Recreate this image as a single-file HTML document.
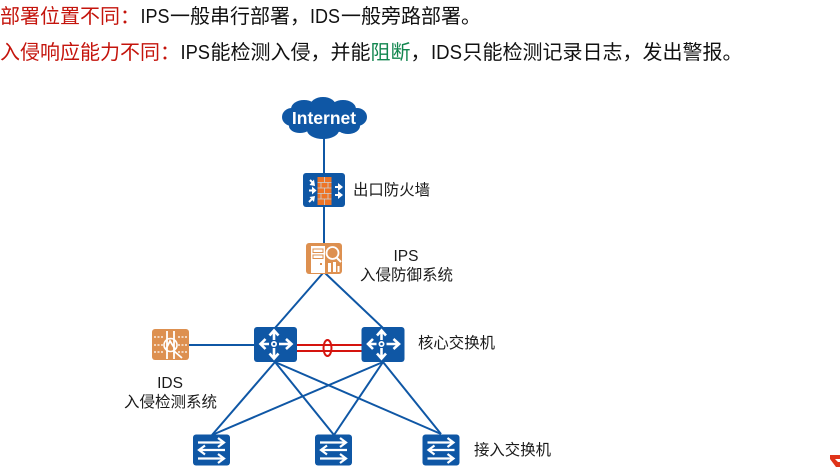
<!DOCTYPE html>
<html><head><meta charset="utf-8">
<style>
html,body{margin:0;padding:0;background:#fff;width:840px;height:467px;overflow:hidden}
svg{display:block;filter:blur(.35px)}
text{font-family:"Liberation Sans","Noto Sans CJK SC",sans-serif;fill:#111}
.h{font-size:20px}
.r{fill:#c4140c}
.g{fill:#12864f}
.l{font-size:15.5px;fill:#1a1a1a}
</style></head><body>
<svg width="840" height="467" viewBox="0 0 840 467" xmlns="http://www.w3.org/2000/svg">
<defs>
<g id="core">
<rect x="0" y="0" width="43" height="35" rx="3" fill="#0f57a5"/>
<g stroke="#fff" stroke-width="2.600" fill="none">
<path d="M20 13 V4.500 M15.500 8.500 L20 3.500 L24.500 8.500"/>
<path d="M20 21 V31 M15.500 26.500 L20 31.500 L24.500 26.500"/>
<path d="M15 17 H7 M11.500 12 L6.500 17 L11.500 22"/>
<path d="M25 17 H37 M32 12 L37.500 17 L32 22"/>
</g>
<circle cx="20" cy="17" r="3" fill="#fff"/>
<circle cx="20" cy="17" r="1.300" fill="#0f57a5"/>
</g>
<g id="sw">
<rect x="0" y="0" width="37" height="31" rx="3" fill="#0f57a5"/>
<g stroke="#fff" stroke-width="2.200" fill="none">
<path d="M5 8 H31 M25 3.500 L31 8 L25 12.500"/>
<path d="M32 15.500 H6 M12 11 L6 15.500 L12 20"/>
<path d="M5 24 H31 M25 19.500 L31 24 L25 28.500"/>
</g>
</g>
</defs>

<!-- heading -->
<text class="h r" x="0" y="23">部署位置不同：</text>
<text class="h" x="140.500" y="23" textLength="29" lengthAdjust="spacingAndGlyphs">IPS</text>
<text class="h" x="170" y="23">一般串行部署，</text>
<text class="h" x="310" y="23" textLength="30" lengthAdjust="spacingAndGlyphs">IDS</text>
<text class="h" x="341" y="23">一般旁路部署。</text>
<text class="h r" x="0" y="59">入侵响应能力不同：</text>
<text class="h" x="180.500" y="59" textLength="29.500" lengthAdjust="spacingAndGlyphs">IPS</text>
<text class="h" x="210.500" y="59">能检测入侵，</text>
<text class="h" x="330.500" y="59">并能</text>
<text class="h g" x="370.500" y="59">阻断</text>
<text class="h" x="410.500" y="59">，</text>
<text class="h" x="431" y="59" textLength="31" lengthAdjust="spacingAndGlyphs">IDS</text>
<text class="h" x="462.500" y="59">只能检测记录日志，</text>
<text class="h" x="642.500" y="59">发出警报。</text>

<!-- links -->
<g stroke="#0f57a5" stroke-width="2" fill="none">
<path d="M324 130 V245"/>
<path d="M323 273 L275 328"/>
<path d="M325 273 L383 328"/>
<path d="M189 345 H254"/>
<path d="M275 362 L212 435"/>
<path d="M275 362 L334 435"/>
<path d="M275 362 L441 434"/>
<path d="M383 362 L212 435"/>
<path d="M383 362 L334 435"/>
<path d="M383 362 L441 434"/>
</g>
<g stroke="#d5140e" stroke-width="2" fill="none">
<path d="M297 345 H362"/>
<path d="M297 351 H362"/>
<ellipse cx="327.500" cy="348" rx="4" ry="8"/>
</g>

<!-- cloud -->
<g fill="#0f57a5">
<ellipse cx="324.500" cy="118" rx="38" ry="15"/>
<ellipse cx="292" cy="117" rx="10" ry="9"/>
<ellipse cx="357" cy="117" rx="10" ry="9"/>
<ellipse cx="304" cy="109" rx="13" ry="9"/>
<ellipse cx="323" cy="106" rx="13" ry="9"/>
<ellipse cx="343" cy="109" rx="13" ry="9"/>
<ellipse cx="300" cy="126" rx="11" ry="7"/>
<ellipse cx="323" cy="130" rx="16" ry="9"/>
<ellipse cx="348" cy="126" rx="12" ry="8"/>
</g>
<text x="324" y="124" text-anchor="middle" style="fill:#fff;font-weight:bold;font-size:17.500px">Internet</text>

<!-- firewall -->
<rect x="303" y="173" width="42" height="34" rx="3" fill="#0f57a5"/>
<rect x="317.500" y="177" width="14" height="28" fill="#ee7426"/>
<g stroke="#c9d4dc" stroke-width=".8">
<path d="M317.500 182.500 H331.500 M317.500 188 H331.500 M317.500 193.500 H331.500 M317.500 199 H331.500"/>
<path d="M324.500 177 V182.500 M321 182.500 V188 M328 182.500 V188 M324.500 188 V193.500 M321 193.500 V199 M328 193.500 V199 M324.500 199 V205"/>
</g>
<g stroke="#fff" stroke-width="2" fill="none">
<path d="M310 180 L314 184 M309 190.500 H313 M309 202 L313 198"/>
<path d="M335 187 H339 M335 195 H339"/>
</g>
<g fill="#fff">
<path d="M315 186 L309.500 185 L314 179.500 Z M316.500 190.500 L312 186.500 V194.500 Z M315 196 L309.500 197 L314 202 Z"/>
<path d="M343 187 L338 183 V191 Z M343 195 L338 191 V199 Z"/>
</g>
<text class="l" x="353" y="195" textLength="77" lengthAdjust="spacingAndGlyphs">出口防火墙</text>

<!-- IPS -->
<rect x="306" y="243" width="36" height="31" rx="3" fill="#dd9050"/>
<path d="M311 246 H325 V273 H311 Z" fill="#fff"/>
<rect x="313" y="249" width="10" height="3.500" fill="none" stroke="#dd9050"/>
<rect x="313" y="255" width="10" height="3.500" fill="none" stroke="#dd9050"/>
<rect x="320" y="263" width="2" height="2" fill="#dd9050"/>
<circle cx="332.500" cy="253" r="6" fill="#dd9050" stroke="#fff" stroke-width="1.800"/>
<path d="M337 258 L341 262" stroke="#fff" stroke-width="2"/>
<path d="M328 272 V263 H331 V272 Z M333 272 V262 H336 V272 Z M337.500 272 V266 H339.500 V272 Z" fill="#fff"/>
<text class="l" x="406" y="261" text-anchor="middle">IPS</text>
<text class="l" x="360" y="280" textLength="93" lengthAdjust="spacingAndGlyphs">入侵防御系统</text>

<!-- IDS -->
<rect x="152" y="329" width="37" height="31" rx="3" fill="#dd9050"/>
<g stroke="#fff" stroke-width="1.300" fill="none">
<path d="M154 337 H163 M154 345 H163 M154 352 H163 M178 337 H187 M178 345 H187 M178 352 H187" stroke-dasharray="2 1.500"/>
<circle cx="170.500" cy="345" r="6.500" stroke-width="1.600"/>
<path d="M167 331 V359 M174 331 V359 M166 349 L170 341 L175 349 M174 351 L182 358" stroke-width="1.800"/>
</g>
<text class="l" x="170" y="388" text-anchor="middle">IDS</text>
<text class="l" x="124" y="407" textLength="93" lengthAdjust="spacingAndGlyphs">入侵检测系统</text>

<!-- core switches -->
<use href="#core" x="254" y="327"/>
<use href="#core" x="361.500" y="327"/>
<text class="l" x="418" y="348" textLength="77" lengthAdjust="spacingAndGlyphs">核心交换机</text>

<!-- access switches -->
<use href="#sw" x="193" y="434.500"/>
<use href="#sw" x="315" y="434.500"/>
<use href="#sw" x="422.500" y="434.500"/>
<text class="l" x="474" y="455" textLength="77" lengthAdjust="spacingAndGlyphs">接入交换机</text>

<!-- corner -->
<path d="M830 455 H840 V459 H835 L838 462 H840 V467 H836 L830 459 Z" fill="#e0341a"/>
</svg>
</body></html>
